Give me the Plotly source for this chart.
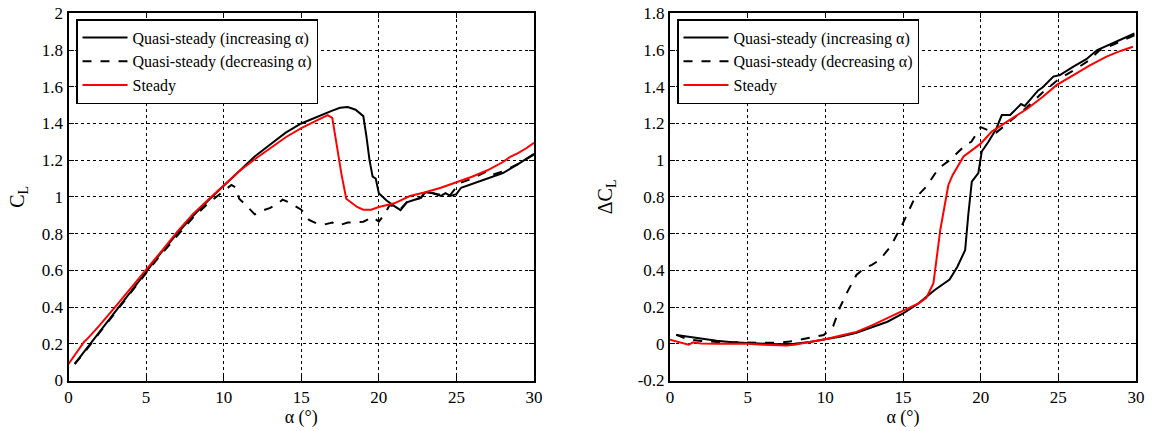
import plotly.graph_objects as go

# ---------------- data ----------------
# Left panel: C_L vs alpha
alpha_inc_L = [0.4, 1, 2, 3, 4, 5, 6, 7, 8, 9, 10, 11, 12, 13, 14, 15, 16, 17, 17.5, 18, 18.5, 19,
               19.2, 19.4, 19.6, 19.8, 20, 20.5, 21, 21.4, 21.8, 22.7, 23, 23.5, 24, 24.3, 24.6, 25,
               25.3, 26, 27, 28, 29, 30]
CL_inc = [0.09, 0.155, 0.265, 0.375, 0.485, 0.595, 0.70, 0.80, 0.895, 0.98, 1.06, 1.145, 1.22, 1.285,
          1.35, 1.40, 1.437, 1.47, 1.485, 1.49, 1.475, 1.44, 1.33, 1.2, 1.11, 1.1, 1.02, 0.98, 0.95,
          0.928, 0.97, 0.995, 1.025, 1.02, 1.005, 1.02, 1.005, 1.015, 1.05, 1.07, 1.10, 1.13, 1.18, 1.235]

alpha_dec_L = [0.4, 1, 2, 3, 4, 5, 6, 7, 8, 9, 10, 10.5, 10.8, 11, 11.5, 12, 12.5, 13, 13.5, 13.8, 14.2,
               15, 15.5, 16, 16.5, 17, 17.4, 18, 19, 19.6, 20, 20.4, 20.7, 21.4, 21.8, 22.7, 23, 23.5,
               24, 24.6, 25.2, 26, 26.5, 27, 27.3, 28, 29, 30]
CL_dec = [0.09, 0.15, 0.26, 0.37, 0.48, 0.585, 0.69, 0.79, 0.885, 0.965, 1.035, 1.065, 1.05, 0.99,
          0.95, 0.905, 0.925, 0.94, 0.965, 0.985, 0.97, 0.93, 0.875, 0.855, 0.85, 0.86, 0.845, 0.86,
          0.865, 0.89, 0.865, 0.91, 0.956, 0.935, 0.97, 0.995, 1.025, 1.02, 1.01, 1.01, 1.075, 1.10,
          1.12, 1.14, 1.12, 1.14, 1.18, 1.23]

alpha_st_L = [0, 0.5, 1, 1.3, 2, 3, 4, 5, 6, 7, 8, 9, 10, 11, 12, 13, 14, 15, 16, 16.7, 17.0, 17.2,
              17.4, 17.6, 17.9, 18.2, 18.6, 19, 19.5, 20, 21, 22, 23, 24, 25, 26, 27, 28, 28.5, 29,
              29.5, 30]
CL_st = [0.09, 0.15, 0.21, 0.235, 0.30, 0.40, 0.50, 0.60, 0.705, 0.81, 0.905, 0.985, 1.065, 1.14,
         1.205, 1.265, 1.325, 1.375, 1.415, 1.445, 1.43, 1.33, 1.21, 1.12, 0.99, 0.97, 0.945, 0.93,
         0.93, 0.945, 0.965, 1.005, 1.025, 1.05, 1.08, 1.11, 1.145, 1.19, 1.22, 1.24, 1.265, 1.295]

# Right panel: Delta C_L vs alpha
alpha_inc_R = [0.4, 1, 2, 3, 4, 5, 6, 7, 8, 9, 10, 11, 12, 13, 14, 15, 16, 17, 18, 18.5, 19, 19.2,
               19.43, 19.85, 20.07, 20.5, 21, 21.36, 21.9, 22.6, 22.84, 23.7, 24.0, 24.68, 25.1,
               25.97, 26.8, 27.5, 28.5, 29.9]
dCL_inc = [0.048, 0.04, 0.028, 0.017, 0.008, 0.003, 0.0, -0.003, 0.0, 0.01, 0.025, 0.04, 0.06, 0.09,
           0.12, 0.165, 0.22, 0.29, 0.35, 0.42, 0.51, 0.7, 0.883, 0.93, 1.047, 1.1, 1.17, 1.246,
           1.246, 1.306, 1.295, 1.38, 1.397, 1.455, 1.464, 1.51, 1.55, 1.60, 1.637, 1.69]

alpha_dec_R = [0.4, 0.8, 1.3, 2, 3, 4, 5, 6, 7, 7.7, 8.5, 9.3, 9.9, 10.5, 10.95, 11.4, 12, 12.5, 13,
               13.5, 14.2, 15, 15.7, 16.5, 17.3, 18, 19.1, 19.4, 20.0, 20.7, 21, 22, 23, 24, 25, 26,
               27, 27.6, 28.5, 29, 29.9]
dCL_dec = [0.05, 0.035, 0.022, 0.015, 0.01, 0.007, 0.005, 0.005, 0.005, 0.012, 0.025, 0.038, 0.048,
           0.095, 0.2, 0.28, 0.375, 0.41, 0.43, 0.457, 0.53, 0.657, 0.784, 0.856, 0.956, 1.0, 1.088,
           1.10, 1.18, 1.155, 1.15, 1.22, 1.29, 1.37, 1.44, 1.49, 1.545, 1.595, 1.63, 1.645, 1.68]

alpha_st_R = [0, 0.5, 1.2, 1.5, 2, 3, 4, 5, 6, 7.5, 8, 9, 10, 11, 12, 13, 14, 15, 16, 16.5, 16.96,
              17.4, 17.92, 18.2, 18.9, 20, 20.7, 21.7, 23, 24, 24.9, 26, 27, 28.1, 29, 29.8]
dCL_st = [0.022, 0.01, -0.005, 0.008, 0.002, 0.0, 0.0, 0.0, -0.005, -0.01, -0.005, 0.008, 0.025,
          0.045, 0.065, 0.1, 0.14, 0.18, 0.22, 0.25, 0.33, 0.62, 0.865, 0.92, 1.02, 1.09, 1.155, 1.21,
          1.28, 1.345, 1.41, 1.465, 1.515, 1.564, 1.595, 1.618]

x_ticks = [0, 5, 10, 15, 20, 25, 30]
yL_ticks = [0, 0.2, 0.4, 0.6, 0.8, 1, 1.2, 1.4, 1.6, 1.8, 2]
yL_text = ["0", "0.2", "0.4", "0.6", "0.8", "1", "1.2", "1.4", "1.6", "1.8", "2"]
yR_ticks = [-0.2, 0, 0.2, 0.4, 0.6, 0.8, 1, 1.2, 1.4, 1.6, 1.8]
yR_text = ["-0.2", "0", "0.2", "0.4", "0.6", "0.8", "1", "1.2", "1.4", "1.6", "1.8"]

names = ["Quasi-steady (increasing \u03b1)", "Quasi-steady (decreasing \u03b1)", "Steady"]

# ---------------- figure ----------------
W, H = 1158, 431
FONT = "Liberation Serif"
fig = go.Figure()

styles = [dict(color="black", width=2, dash="solid"),
          dict(color="black", width=2, dash="dash"),
          dict(color="red", width=2, dash="solid")]

left = [(alpha_inc_L, CL_inc), (alpha_dec_L, CL_dec), (alpha_st_L, CL_st)]
right = [(alpha_inc_R, dCL_inc), (alpha_dec_R, dCL_dec), (alpha_st_R, dCL_st)]

for i, (xs, ys) in enumerate(left):
    fig.add_trace(go.Scatter(x=xs, y=ys, mode="lines", name=names[i], line=styles[i],
                             xaxis="x", yaxis="y", legend="legend"))
for i, (xs, ys) in enumerate(right):
    fig.add_trace(go.Scatter(x=xs, y=ys, mode="lines", name=names[i], line=styles[i],
                             xaxis="x2", yaxis="y2", legend="legend2"))

def px_x(p):
    return p / W

def px_y(p):
    return 1 - p / H

axis_common = dict(showline=True, linecolor="black", linewidth=2, mirror="ticks",
                   ticks="inside", ticklen=5, tickcolor="black", tickwidth=1,
                   showgrid=True, gridcolor="black", griddash="dot", gridwidth=1,
                   zeroline=False, tickfont=dict(family=FONT, size=17, color="black"),
                   automargin=False)

legend_common = dict(xanchor="left", yanchor="top", bgcolor="white", bordercolor="black",
                     borderwidth=1.5, font=dict(family=FONT, size=16, color="black"),
                     tracegroupgap=0, itemwidth=45)

yd = [px_y(380.5), px_y(13.3)]
fig.update_layout(
    width=W, height=H,
    margin=dict(l=0, r=0, t=0, b=0),
    paper_bgcolor="white", plot_bgcolor="white",
    font=dict(family=FONT, size=17, color="black"),
    xaxis=dict(domain=[px_x(68.5), px_x(534)], range=[0, 30], tickvals=x_ticks,
               title=dict(text="\u03b1 (\u00b0)", font=dict(family=FONT, size=18), standoff=0),
               anchor="y", **axis_common),
    yaxis=dict(domain=yd, range=[0, 2], tickvals=yL_ticks, ticktext=yL_text,
               title=dict(text="C<sub>L</sub>", font=dict(family=FONT, size=20), standoff=12),
               anchor="x", **axis_common),
    xaxis2=dict(domain=[px_x(670), px_x(1136)], range=[0, 30], tickvals=x_ticks,
                title=dict(text="\u03b1 (\u00b0)", font=dict(family=FONT, size=18), standoff=0),
                anchor="y2", **axis_common),
    yaxis2=dict(domain=yd, range=[-0.2, 1.8], tickvals=yR_ticks, ticktext=yR_text,
                title=dict(text="\u0394C<sub>L</sub>", font=dict(family=FONT, size=20), standoff=20),
                anchor="x2", **axis_common),
    legend=dict(x=px_x(76), y=px_y(19), **legend_common),
    legend2=dict(x=px_x(677), y=px_y(19), **legend_common),
    showlegend=True,
)

fig.write_html("out.html")
